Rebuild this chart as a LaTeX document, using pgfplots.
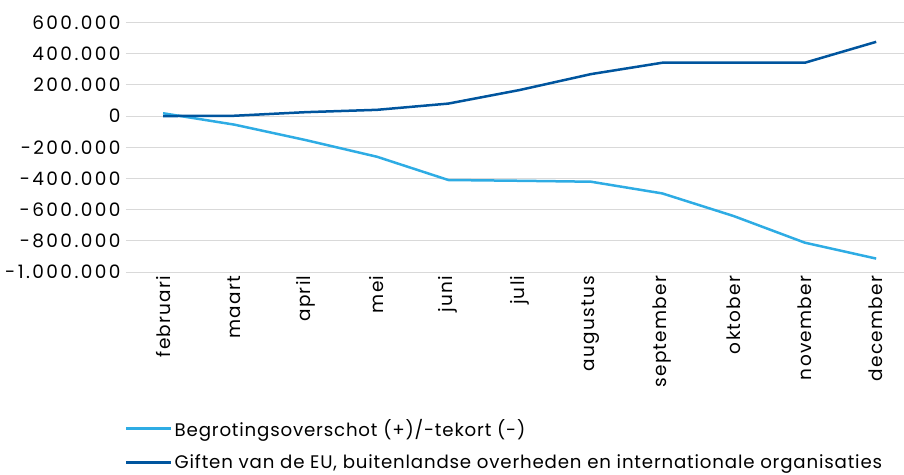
\documentclass[border=0pt]{standalone}
\usepackage{fontspec}
\setmainfont{Poppins}
\usepackage{pgfplots}
\pgfplotsset{compat=1.18}
\definecolor{lightb}{RGB}{46,172,228}
\definecolor{darkb}{RGB}{0,85,158}
\definecolor{gridc}{RGB}{217,217,217}
\begin{document}
\begin{tikzpicture}
\begin{axis}[
  at={(0,0)}, anchor=south west,
  scale only axis,
  width=778pt, height=249.5pt,
  xmin=-0.52, xmax=10.39,
  ymin=-1000000, ymax=600000,
  scaled y ticks=false,
  axis line style={draw=none},
  major tick length=0pt,
  ymajorgrids, grid style={gridc, line width=1pt},
  ytick={-1000000,-800000,-600000,-400000,-200000,0,200000,400000,600000},
  yticklabels={-1.000.000,-800.000,-600.000,-400.000,-200.000,0,200.000,400.000,600.000},
  xtick={0,...,10},
  xticklabels={februari,maart,april,mei,juni,juli,augustus,september,oktober,november,december},
  x tick label style={rotate=90, anchor=east, yshift=0pt, font=\fontsize{18.5}{22}\selectfont\addfontfeatures{LetterSpace=7}},
  yticklabel style={xshift=-2pt, font=\fontsize{18.5}{22}\selectfont\addfontfeatures{LetterSpace=13}},
  legend style={at={(0,0)}, anchor=north west, xshift=-4pt, yshift=-143pt, draw=none, font=\fontsize{18.2}{21}\selectfont\addfontfeatures{LetterSpace=4.5}, row sep=13pt},
  legend cell align=left,
  legend image code/.code={\draw[#1, line width=2.5pt] (0pt,0pt) -- (37pt,0pt); \path (0pt,0pt) -- (45pt,0pt);},
  clip=false,
]
\addplot[lightb, line width=2.5pt] coordinates {
 (0,18000) (1,-55000) (2,-154000) (3,-261000) (4,-410000) (5,-415000) (6,-421000) (7,-496000) (8,-641000) (9,-812000) (10,-914000)};
\addlegendentry{Begrotingsoverschot (+)/-tekort (-)}
\addplot[darkb, line width=2.5pt] coordinates {
 (0,0) (1,2000) (2,25000) (3,40000) (4,80000) (5,167000) (6,269000) (7,342000) (8,342000) (9,342000) (10,476000)};
\addlegendentry{Giften van de EU, buitenlandse overheden en internationale organisaties}
\end{axis}
\pgfresetboundingbox
\useasboundingbox (-126pt,-202pt) rectangle (778pt,272pt);
\end{tikzpicture}
\end{document}
